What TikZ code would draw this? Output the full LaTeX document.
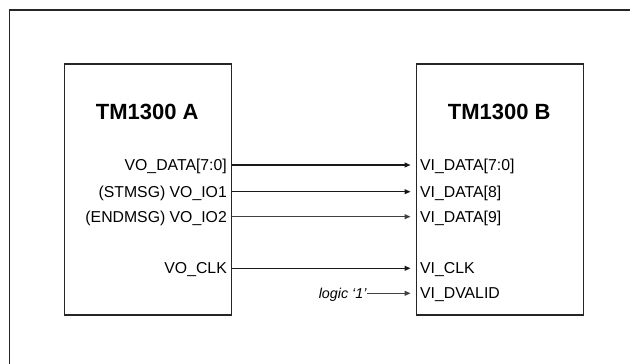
\documentclass[tikz,border=0pt]{standalone}
\usepackage{fontspec}
\setmainfont{Liberation Sans}
\usetikzlibrary{arrows.meta}
\begin{document}
\begin{tikzpicture}[x=1pt,y=1pt,
  chip/.style={draw=black!85, line width=1.3pt, inner sep=0pt},
  title/.style={font=\fontsize{22}{26}\selectfont\bfseries, inner sep=0pt},
  pin/.style={font=\fontsize{15.8}{18}\selectfont, inner sep=0pt},
  sig/.style={line width=1pt, draw=black!90, -{Triangle[length=6pt,width=5pt]}},
  frame/.style={draw=black!85, line width=1.4pt}]
\useasboundingbox (0,0) rectangle (630,-364);
% outer frame (only top and left edges visible)
\coordinate (fbl) at (9.5,-366);
\coordinate (ftl) at (9.5,-10);
\coordinate (ftr) at (632,-10);
\draw[frame] (fbl) -- (ftl) -- (ftr);
% chips
\node[chip, minimum width=166.7pt, minimum height=251pt, anchor=north west] (A) at (64,-63.3) {};
\node[chip, minimum width=167pt, minimum height=251pt, anchor=north west] (B) at (415.7,-63.3) {};
\node[title] (tA) at (147.3,-111.7) {TM1300 A};
\node[title] (tB) at (499.2,-111.7) {TM1300 B};
% output pins of A
\node[pin, anchor=base east] (o1) at (227,-170.6) {VO\_DATA[7:0]};
\node[pin, anchor=base east] (o2) at (227,-197.3) {(STMSG) VO\_IO1};
\node[pin, anchor=base east] (o3) at (227,-222.3) {(ENDMSG) VO\_IO2};
\node[pin, anchor=base east] (o4) at (227,-273.9) {VO\_CLK};
% input pins of B
\node[pin, anchor=base west] (i1) at (420,-170.6) {VI\_DATA[7:0]};
\node[pin, anchor=base west] (i2) at (420,-197.3) {VI\_DATA[8]};
\node[pin, anchor=base west] (i3) at (420,-222.3) {VI\_DATA[9]};
\node[pin, anchor=base west] (i4) at (420,-273.9) {VI\_CLK};
\node[pin, anchor=base west] (i5) at (420,-298.9) {VI\_DVALID};
\node[font=\fontsize{14.3}{17}\selectfont\itshape, inner sep=0pt, anchor=base east] (lg) at (366.7,-298.3) {logic ‘1’};
% connection points
\coordinate (s1) at (A.east |- 0,-165);
\coordinate (s2) at (A.east |- 0,-191.7);
\coordinate (s3) at (A.east |- 0,-216.7);
\coordinate (s4) at (A.east |- 0,-268.3);
\coordinate (s5) at (366.7,-293.3);
\coordinate (t1) at (410.5,-165);
\coordinate (t2) at (410.5,-191.7);
\coordinate (t3) at (410.5,-216.7);
\coordinate (t4) at (410.5,-268.3);
\coordinate (t5) at (410.5,-293.3);
\draw[sig, line width=1.3pt] (s1) -- (t1);
\draw[sig] (s2) -- (t2);
\draw[sig, draw=black!75] (s3) -- (t3);
\draw[sig] (s4) -- (t4);
\draw[sig, draw=black!75] (s5) -- (t5);
\end{tikzpicture}
\end{document}
